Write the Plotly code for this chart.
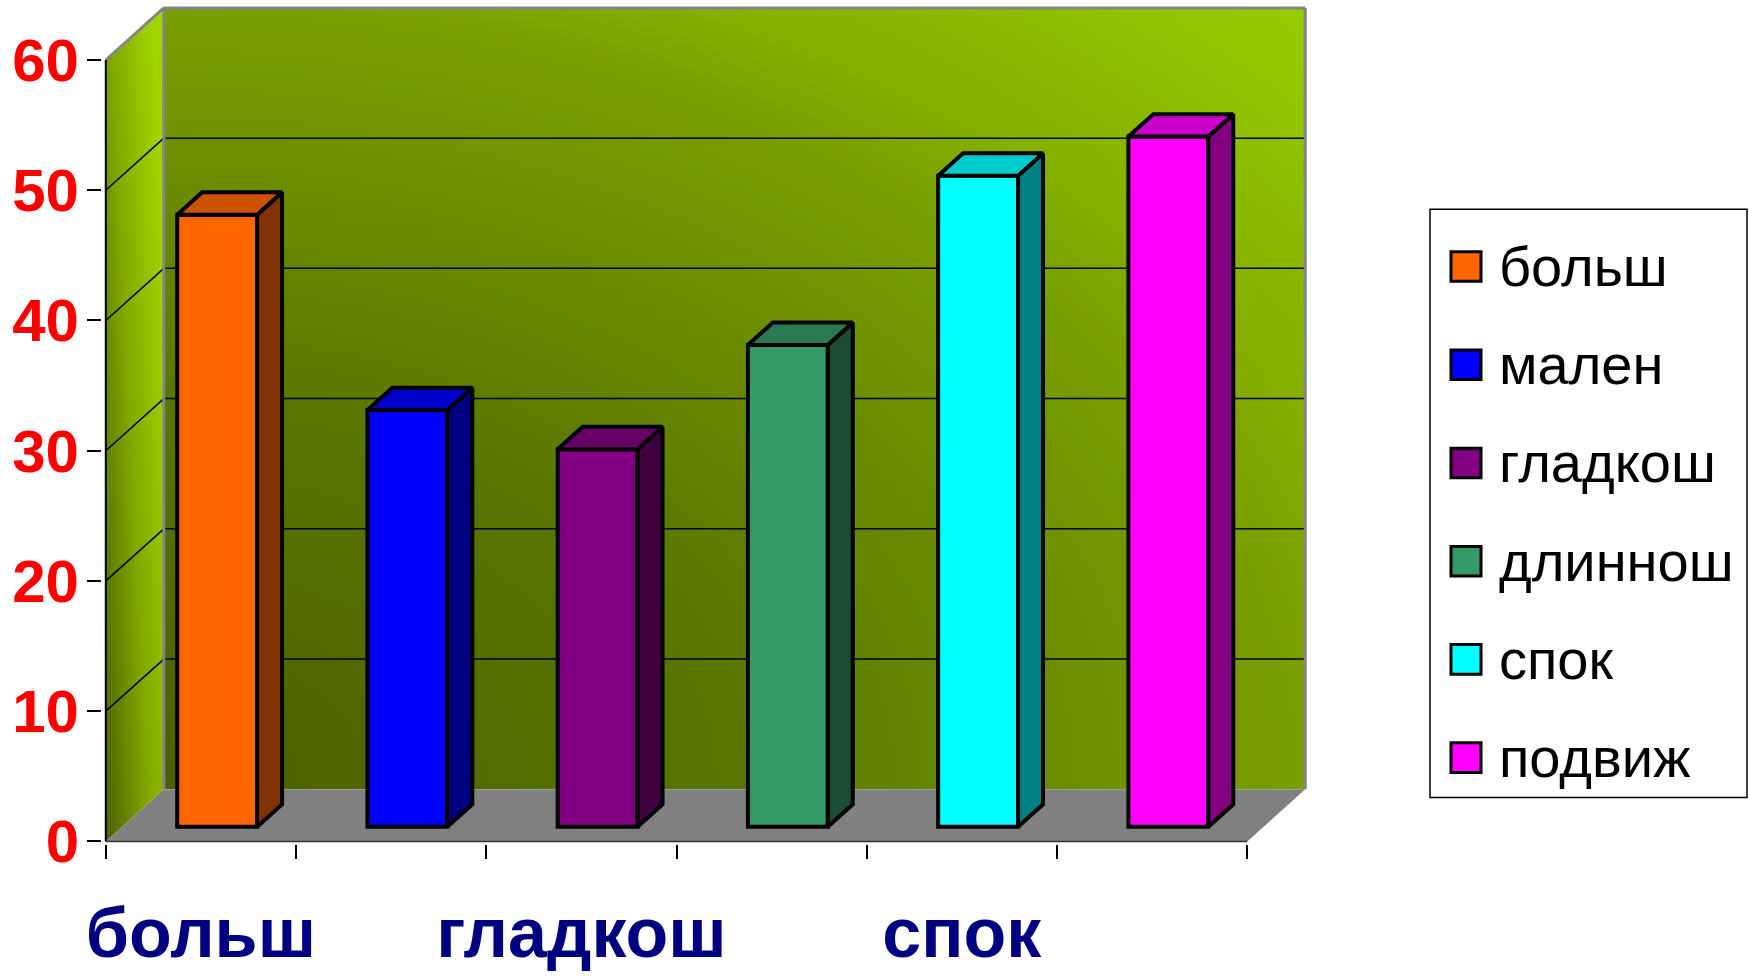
import base64
import plotly.graph_objects as go

# ---------------- data ----------------
categories = ["больш", "мален", "гладкош", "длиннош", "спок", "подвиж"]
values = [47, 32, 29, 37, 50, 53]
front_colors = ["#FF6600", "#0000FF", "#800080", "#339966", "#00FFFF", "#FF00FF"]
top_colors = ["#CC5200", "#0000CC", "#660066", "#297A52", "#00CCCC", "#CC00CC"]
side_colors = ["#803300", "#000080", "#400040", "#1A4D33", "#008080", "#800080"]
y_ticks = [0, 10, 20, 30, 40, 50, 60]
x_label_index = [0, 2, 4]

# ---------------- geometry (pseudo 3D) ----------------
FIG_W, FIG_H = 1749, 976
ML, MR, MT, MB = 102, 439, 4, 121
PW = FIG_W - ML - MR
PH = FIG_H - MT - MB
XR = [-0.52, 5.83]
YR = [-0.2, 64.3]
YMAX = 60
DX, DY = 0.305, 4.0          # depth of the chart box (x units, y units)
F0, FD = 0.28, 0.43          # bar front depth fraction, bar depth fraction
BAR_W = 0.42
n = len(categories)
X0, X1 = -0.5, n - 0.5

font_family = "Liberation Sans, Arial, sans-serif"


def svg_uri(svg):
    return "data:image/svg+xml;base64," + base64.b64encode(svg.encode("utf-8")).decode("ascii")


back_svg = (
    '<svg xmlns="http://www.w3.org/2000/svg" width="600" height="600" viewBox="0 0 100 100" '
    'preserveAspectRatio="none"><defs><radialGradient id="g" cx="0" cy="1" r="1.414" fx="0" fy="1">'
    '<stop offset="0" stop-color="#4B5F00"/><stop offset="0.354" stop-color="#5A7600"/>'
    '<stop offset="0.707" stop-color="#7A9F00"/><stop offset="0.79" stop-color="#86B000"/>'
    '<stop offset="1" stop-color="#99CC00"/></radialGradient></defs>'
    '<rect x="0" y="0" width="100" height="100" fill="url(#g)"/></svg>'
)
ft = 100 * DY / (YMAX + DY)
bb = 100 * YMAX / (YMAX + DY)
side_svg = (
    '<svg xmlns="http://www.w3.org/2000/svg" width="100" height="600" viewBox="0 0 100 100" '
    'preserveAspectRatio="none"><defs><linearGradient id="s" x1="0" y1="1" x2="1" y2="0.3">'
    '<stop offset="0" stop-color="#4D6100"/><stop offset="0.5" stop-color="#7FA600"/>'
    '<stop offset="1" stop-color="#A2D400"/></linearGradient></defs>'
    f'<polygon points="0,100 0,{ft:.3f} 100,0 100,{bb:.3f}" fill="url(#s)"/></svg>'
)

images = [
    dict(source=svg_uri(back_svg), xref="x", yref="y", x=X0 + DX, y=YMAX + DY,
         sizex=X1 - X0, sizey=YMAX, xanchor="left", yanchor="top", sizing="stretch", layer="below"),
    dict(source=svg_uri(side_svg), xref="x", yref="y", x=X0, y=YMAX + DY,
         sizex=DX, sizey=YMAX + DY, xanchor="left", yanchor="top", sizing="stretch", layer="below"),
]

shapes = []
# floor
shapes.append(dict(type="path", xref="x", yref="y", layer="between",
                   path=f"M{X0},0 L{X0 + DX},{DY} L{X1 + DX},{DY} L{X1},0 Z",
                   fillcolor="#808080", line=dict(width=0)))
# back wall gridlines and side wall diagonals
for v in y_ticks[1:-1]:
    shapes.append(dict(type="line", xref="x", yref="y", layer="between",
                       x0=X0 + DX, x1=X1 + DX, y0=v + DY, y1=v + DY,
                       line=dict(color="black", width=1.5)))
    shapes.append(dict(type="line", xref="x", yref="y", layer="between",
                       x0=X0, x1=X0 + DX, y0=v, y1=v + DY,
                       line=dict(color="black", width=1.5)))
# grey wall borders
grey = "#858585"
for (xa, ya, xb, yb) in [
    (X0 + DX, YMAX + DY, X1 + DX, YMAX + DY),
    (X1 + DX, DY, X1 + DX, YMAX + DY),
    (X0 + DX, DY, X0 + DX, YMAX + DY),
    (X0, YMAX, X0 + DX, YMAX + DY),
]:
    shapes.append(dict(type="line", xref="x", yref="y", layer="between",
                       x0=xa, x1=xb, y0=ya, y1=yb, line=dict(color=grey, width=3)))
# front axis lines
shapes.append(dict(type="line", xref="x", yref="y", layer="between",
                   x0=X0, x1=X0, y0=0, y1=YMAX, line=dict(color="black", width=2)))
shapes.append(dict(type="line", xref="x", yref="y", layer="between",
                   x0=X0, x1=X1, y0=0, y1=0, line=dict(color="#333333", width=1.5)))

fig = go.Figure()

base = F0 * DY
bdx, bdy = FD * DX, FD * DY
for i, (cat, v) in enumerate(zip(categories, values)):
    xc = i + F0 * DX
    fig.add_trace(go.Bar(
        x=[xc], y=[v], base=[base], width=[BAR_W], name=cat,
        marker=dict(color=front_colors[i], line=dict(color="black", width=4)),
        showlegend=False, hoverinfo="name+y",
    ))
for i, (cat, v) in enumerate(zip(categories, values)):
    xc = i + F0 * DX
    xl, xr = xc - BAR_W / 2, xc + BAR_W / 2
    top = base + v
    fig.add_trace(go.Scatter(
        x=[xr, xr, xr + bdx, xr + bdx, xr], y=[base, top, top + bdy, base + bdy, base],
        mode="lines", fill="toself", fillcolor=side_colors[i],
        line=dict(color="black", width=4), showlegend=False, hoverinfo="skip"))
    fig.add_trace(go.Scatter(
        x=[xl, xl + bdx, xr + bdx, xr, xl], y=[top, top + bdy, top + bdy, top, top],
        mode="lines", fill="toself", fillcolor=top_colors[i],
        line=dict(color="black", width=4), showlegend=False, hoverinfo="skip"))


# ---------------- manual legend ----------------
def pxx(p):
    return (p - ML) / PW


def pxy(p):
    return (FIG_H - MB - p) / PH


annotations = []
shapes.append(dict(type="rect", xref="paper", yref="paper",
                   x0=pxx(1430), x1=pxx(1747), y0=pxy(808), y1=pxy(212),
                   line=dict(color="black", width=1.5), fillcolor="white"))
for k, cat in enumerate(categories):
    cy = 270 + 99.5 * k
    shapes.append(dict(type="rect", xref="paper", yref="paper",
                       x0=pxx(1451), x1=pxx(1481), y0=pxy(cy + 15), y1=pxy(cy - 15),
                       line=dict(color="black", width=3), fillcolor=front_colors[k]))
    annotations.append(dict(xref="paper", yref="paper", x=pxx(1497), y=pxy(cy),
                            xanchor="left", yanchor="middle", text=cat, showarrow=False,
                            font=dict(family=font_family, size=56, color="black")))

fig.update_layout(
    width=FIG_W, height=FIG_H,
    margin=dict(l=ML, r=MR, t=MT, b=MB, pad=0),
    paper_bgcolor="white", plot_bgcolor="white",
    barmode="overlay", showlegend=False,
    images=images, shapes=shapes, annotations=annotations,
    xaxis=dict(range=XR, showgrid=False, zeroline=False, showline=False,
               tickmode="array", tickvals=x_label_index,
               ticktext=[categories[i] for i in x_label_index],
               ticks="", ticklabelstandoff=42,
               tickfont=dict(family=font_family, size=70, color="#000080", weight="bold"),
               minor=dict(tickmode="array", tickvals=[X0 + k for k in range(n + 1)],
                          ticks="outside", ticklen=14, tickwidth=2, tickcolor="black",
                          showgrid=False)),
    yaxis=dict(range=YR, showgrid=False, zeroline=False, showline=False,
               tickmode="array", tickvals=y_ticks, ticks="outside", ticklen=14,
               tickwidth=2, tickcolor="black", ticklabelstandoff=-4,
               tickfont=dict(family=font_family, size=60, color="#FF0000", weight="bold")),
)

fig.write_html(
    "out.html",
    config={"displayModeBar": False},
    post_script="document.body.style.margin='0px';document.body.style.overflow='hidden';",
)
